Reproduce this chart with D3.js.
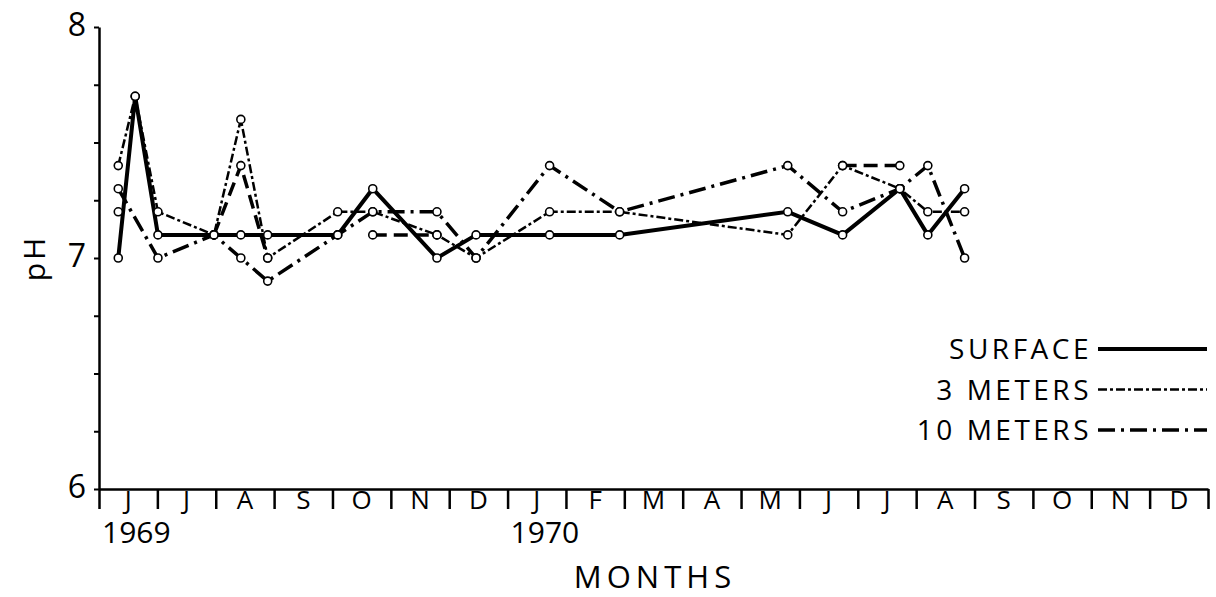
<!DOCTYPE html>
<html>
<head>
<meta charset="utf-8">
<script src="https://cdn.jsdelivr.net/npm/d3@7"></script>
<style>
  body { margin: 0; background: #fff; }
  svg { display: block; font-family: "Open Sans", sans-serif; }
</style>
</head>
<body>
<svg width="1216" height="597"></svg>
<script>
const plotLeft = 99;
const plotRight = 1208;
const plotTop = 27;
const plotBottom = 489;

// month labels, June 1969 .. December 1970
const months = ["J", "J", "A", "S", "O", "N", "D", "J", "F", "M", "A", "M", "J", "J", "A", "S", "O", "N", "D"];
const yearLabels = ["1969", "1970"];
const yearStart = [0, 7];
const yLabels = [6, 7, 8];

// sample times, in months since 1 June 1969
const sampleMonths = [0.33, 0.62, 1.01, 1.97, 2.43, 2.89, 4.09, 4.69, 5.79, 6.46, 7.72, 8.92, 11.8, 12.74, 13.72, 14.2, 14.83];
const surface = [7.0, 7.7, 7.1, 7.1, 7.1, 7.1, 7.1, 7.3, 7.0, 7.1, 7.1, 7.1, 7.2, 7.1, 7.3, 7.1, 7.3];
const meters3 = [7.4, 7.7, 7.2, 7.1, 7.6, 7.0, 7.2, 7.2, 7.1, 7.0, 7.2, 7.2, 7.1, 7.4, 7.3, 7.2, 7.2];
const meters10 = [7.3, null, 7.0, 7.1, 7.0, 6.9, 7.1, 7.2, 7.2, 7.0, 7.4, 7.2, 7.4, 7.2, 7.3, 7.4, 7.0];
// short unlabelled traces that the figure also shows
const other = [7.2, null, null, 7.1, 7.4, 7.0, null, 7.1, 7.1, null, null, null, null, 7.4, 7.4, null, null];

const legendNames = ["SURFACE", "3 METERS", "10 METERS"];

const series = [
    { values: surface, width: 4, dash: null, gaps: false },
    { values: meters3, width: 2.5, dash: "9,3,3,3", gaps: false },
    { values: meters10, width: 3.5, dash: "17,6,3,6", gaps: false },
    { values: other, width: 3.5, dash: "14,7", gaps: true },
];

const svg = d3.select("svg");

const x = d3.scaleLinear().domain([0, months.length]).range([plotLeft, plotRight]);
const y = d3.scaleLinear().domain([6, 8]).range([plotBottom, plotTop]);

// y axis with quarter ticks
svg.append("g")
    .attr("transform", `translate(${plotLeft},0)`)
    .call(d3.axisLeft(y).tickValues(d3.range(6, 8.01, 0.25)).tickSize(5).tickSizeOuter(0).tickFormat(""))
    .call(g => g.select(".domain").attr("stroke-width", 2.5).attr("stroke", "#000"))
    .call(g => g.selectAll(".tick line").attr("stroke-width", 2));

svg.append("g")
    .selectAll("text")
    .data(yLabels)
    .enter()
    .append("text")
    .attr("x", 86)
    .attr("y", d => y(d))
    .attr("text-anchor", "end")
    .attr("dominant-baseline", "middle")
    .style("font-size", "32px")
    .text(d => d);

svg.append("text")
    .attr("transform", `translate(45,${y(7)}) rotate(-90)`)
    .attr("text-anchor", "middle")
    .style("font-size", "30px")
    .style("letter-spacing", "3px")
    .text("pH");

// x axis, ticks between months
svg.append("g")
    .attr("transform", `translate(0,${plotBottom})`)
    .call(d3.axisBottom(x).tickValues(d3.range(0, months.length + 1)).tickSize(20).tickSizeOuter(0).tickFormat(""))
    .call(g => g.select(".domain").attr("stroke-width", 2.5).attr("stroke", "#000"))
    .call(g => g.selectAll(".tick line").attr("stroke-width", 2.5));

svg.append("g")
    .selectAll("text")
    .data(months)
    .enter()
    .append("text")
    .attr("x", (d, i) => x(i + 0.5))
    .attr("y", 509)
    .attr("text-anchor", "middle")
    .style("font-size", "26px")
    .text(d => d);

svg.append("g")
    .selectAll("text")
    .data(yearLabels)
    .enter()
    .append("text")
    .attr("x", (d, i) => x(yearStart[i]) + 3)
    .attr("y", 543)
    .style("font-size", "30px")
    .text(d => d);

svg.append("text")
    .attr("x", 655)
    .attr("y", 588)
    .attr("text-anchor", "middle")
    .style("font-size", "31px")
    .style("letter-spacing", "5px")
    .text("MONTHS");

// lines
const line = d3.line()
    .defined(d => d[1] !== null)
    .x(d => x(d[0]))
    .y(d => y(d[1]));

series.forEach(s => {
    let pts = sampleMonths.map((m, i) => [m, s.values[i]]);
    if (!s.gaps) pts = pts.filter(d => d[1] !== null);
    svg.append("path")
        .datum(pts)
        .attr("d", line)
        .attr("fill", "none")
        .attr("stroke", "#000")
        .attr("stroke-width", s.width)
        .attr("stroke-dasharray", s.dash);
});

series.forEach(s => {
    const pts = sampleMonths.map((m, i) => [m, s.values[i]]).filter(d => d[1] !== null);
    svg.append("g")
        .selectAll("circle")
        .data(pts)
        .enter()
        .append("circle")
        .attr("cx", d => x(d[0]))
        .attr("cy", d => y(d[1]))
        .attr("r", 4)
        .attr("fill", "#fff")
        .attr("stroke", "#000")
        .attr("stroke-width", 1.6);
});

// legend
const legend = svg.append("g")
    .selectAll("g")
    .data(legendNames)
    .enter()
    .append("g")
    .attr("transform", (d, i) => `translate(0,${349 + i * 40.5})`);

legend.append("text")
    .attr("x", 1092)
    .attr("y", 10)
    .attr("text-anchor", "end")
    .style("font-size", "28px")
    .style("letter-spacing", "3.5px")
    .text(d => d);

legend.append("line")
    .attr("x1", 1098)
    .attr("x2", 1207)
    .attr("stroke", "#000")
    .attr("stroke-width", (d, i) => series[i].width)
    .attr("stroke-dasharray", (d, i) => series[i].dash);
</script>
</body>
</html>
